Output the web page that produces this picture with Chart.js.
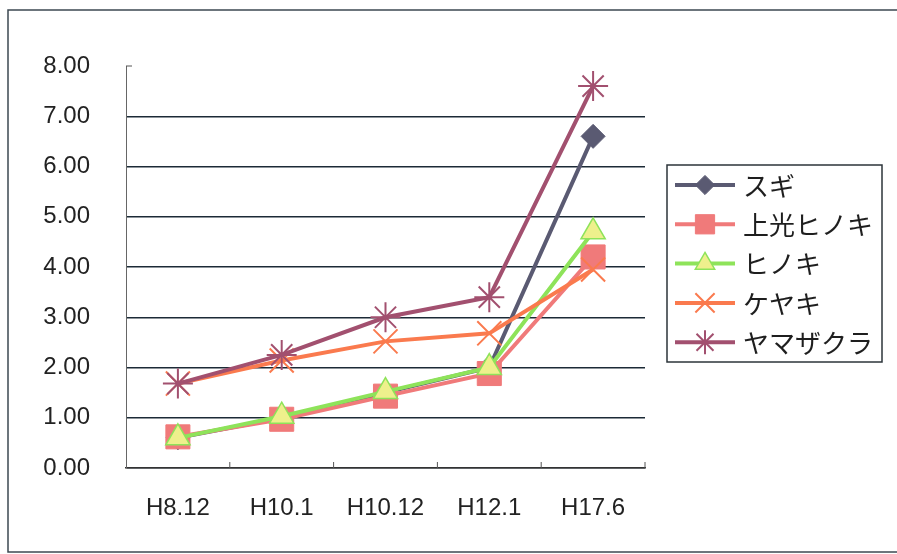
<!DOCTYPE html>
<html>
<head>
<meta charset="utf-8">
<script src="https://cdn.jsdelivr.net/npm/chart.js@4/dist/chart.umd.min.js"></script>
<style>
  html, body { margin: 0; padding: 0; background: #fff; }
  #wrap { width: 897px; height: 554px; }
</style>
</head>
<body>
<div id="wrap"><canvas id="chart" width="897" height="554"></canvas></div>
<script>
// --- data ---
const categories = ["H8.12", "H10.1", "H10.12", "H12.1", "H17.6"];
const seriesNames = ["スギ", "上光ヒノキ", "ヒノキ", "ケヤキ", "ヤマザクラ"];
const sugi = [0.6, 1.0, 1.5, 2.0, 6.6];
const jokoHinoki = [0.62, 0.97, 1.43, 1.88, 4.2];
const hinoki = [0.6, 1.03, 1.52, 2.0, 4.7];
const keyaki = [1.68, 2.14, 2.52, 2.68, 3.95];
const yamazakura = [1.68, 2.25, 3.0, 3.4, 7.6];
const yTicks = [0, 1, 2, 3, 4, 5, 6, 7, 8];

const NUM_FONT = "'Liberation Sans', Arial, sans-serif";
const JP_FONT = "'Noto Sans CJK JP', 'Noto Sans', sans-serif";

const styles = [
  { color: "#5a5a72", fill: "#5a5a72", point: "rectRot", r: 12, bw: 1 },
  { color: "#f07a7a", fill: "#f07a7a", point: "rect", r: 17, bw: 1 },
  { color: "#8ee35a", fill: "#eef08c", point: "triangle", r: 14, bw: 1.5 },
  { color: "#fa7a4e", fill: "#fa7a4e", point: "crossRot", r: 17, bw: 2 },
  { color: "#a2506f", fill: "#a2506f", point: "star", r: 15, bw: 2 },
];

const values = [sugi, jokoHinoki, hinoki, keyaki, yamazakura];

const datasets = values.map((vals, i) => ({
  label: seriesNames[i],
  data: vals,
  borderColor: styles[i].color,
  backgroundColor: styles[i].fill,
  borderWidth: 4,
  pointStyle: styles[i].point,
  pointRadius: styles[i].r,
  pointBorderColor: styles[i].color,
  pointBackgroundColor: styles[i].fill,
  pointBorderWidth: styles[i].bw,
  tension: 0,
  order: values.length - i, // later series on top, like the original
}));

// frame round the whole chart
const framePlugin = {
  id: "frame",
  beforeDraw(chart) {
    const ctx = chart.ctx;
    ctx.save();
    ctx.strokeStyle = "#3c4852";
    ctx.lineWidth = 1.5;
    ctx.strokeRect(8, 10, 895, 542);
    ctx.restore();
  },
};

// small inward ticks like the original
const ticksPlugin = {
  id: "innerTicks",
  afterDraw(chart) {
    const ctx = chart.ctx;
    const x = chart.scales.x, y = chart.scales.y;
    ctx.save();
    ctx.strokeStyle = "#555";
    ctx.lineWidth = 1;
    ctx.beginPath();
    const top = y.getPixelForValue(8);
    ctx.moveTo(x.left, top);
    ctx.lineTo(x.left + 6, top);
    for (let i = 1; i < categories.length; i++) {
      const px = (x.getPixelForValue(i - 1) + x.getPixelForValue(i)) / 2;
      ctx.moveTo(px, y.bottom);
      ctx.lineTo(px, y.bottom - 6);
    }
    ctx.moveTo(x.right, y.bottom);
    ctx.lineTo(x.right, y.bottom - 6);
    ctx.stroke();
    ctx.restore();
  },
};

// legend with line + marker samples
const legendPlugin = {
  id: "boxLegend",
  afterDraw(chart) {
    const ctx = chart.ctx;
    const bx = 667, by = 165, bw = 215, bh = 197;
    ctx.save();
    ctx.fillStyle = "#fff";
    ctx.fillRect(bx, by, bw, bh);
    ctx.strokeStyle = "#2c343a";
    ctx.lineWidth = 1.5;
    ctx.strokeRect(bx, by, bw, bh);
    chart.data.datasets.forEach((ds, i) => {
      const cy = by + 20 + i * 39.3;
      ctx.strokeStyle = ds.borderColor;
      ctx.lineWidth = 4;
      ctx.beginPath();
      ctx.moveTo(675, cy);
      ctx.lineTo(735, cy);
      ctx.stroke();
      ctx.lineWidth = ds.pointBorderWidth;
      ctx.strokeStyle = ds.pointBorderColor;
      ctx.fillStyle = ds.pointBackgroundColor;
      Chart.helpers.drawPoint(ctx, {
        pointStyle: ds.pointStyle,
        radius: ds.pointRadius * 0.8,
        rotation: 0,
        borderWidth: ds.pointBorderWidth,
      }, 705, cy);
      ctx.fillStyle = "#1e1e1e";
      ctx.font = "26px " + JP_FONT;
      ctx.textBaseline = "middle";
      ctx.textAlign = "left";
      ctx.fillText(ds.label, 743, cy + 1);
    });
    ctx.restore();
  },
};

new Chart(document.getElementById("chart"), {
  type: "line",
  data: { labels: categories, datasets: datasets },
  plugins: [framePlugin, ticksPlugin, legendPlugin],
  options: {
    responsive: false,
    animation: false,
    layout: { padding: { top: 66, right: 252, bottom: 0, left: 0 } },
    plugins: { legend: { display: false }, tooltip: { enabled: false } },
    scales: {
      x: {
        offset: true,
        afterFit: (s) => { s.height = 86; },
        grid: { display: true, drawOnChartArea: false, drawTicks: false, offset: true },
        border: { display: true, color: "#333", width: 1.5 },
        ticks: { padding: 26, color: "#222", font: { family: NUM_FONT, size: 24 } },
      },
      y: {
        min: 0,
        max: 8,
        afterFit: (s) => { s.width = 126; },
        afterBuildTicks: (s) => { s.ticks = yTicks.map(v => ({ value: v })); },
        grid: {
          drawTicks: false,
          color: (c) => (c.tick && c.tick.value === 8 ? "rgba(0,0,0,0)" : "#1c2a36"),
          lineWidth: 1.5,
        },
        border: { display: true, color: "#666", width: 1 },
        ticks: {
          padding: 36,
          color: "#222",
          font: { family: NUM_FONT, size: 24 },
          callback: (v) => Number(v).toFixed(2),
        },
      },
    },
  },
});
</script>
</body>
</html>
